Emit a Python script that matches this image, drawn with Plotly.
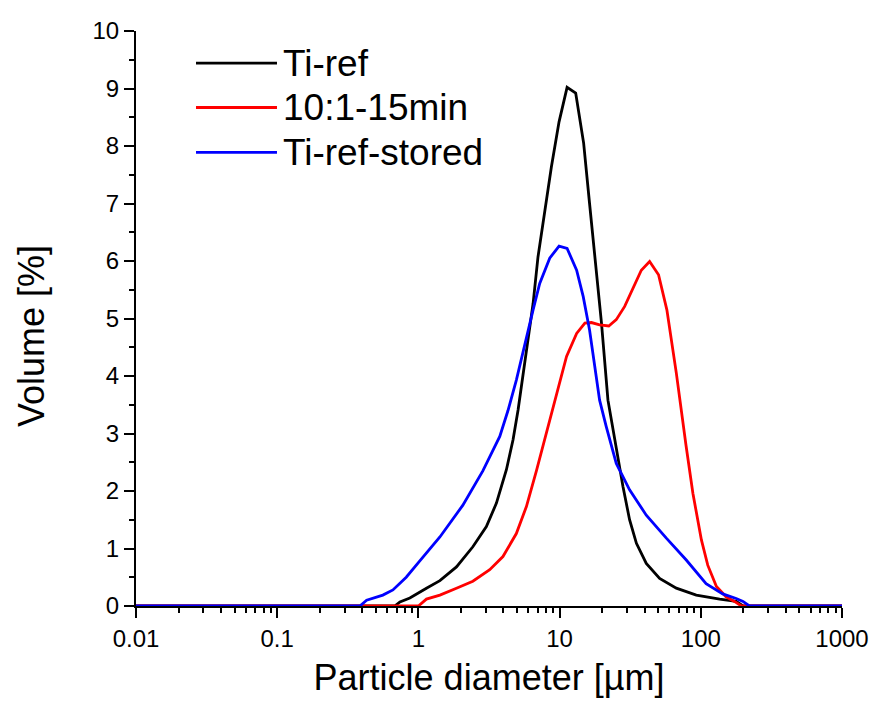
import plotly.graph_objects as go

# ---- data ----
series_names = ["Ti-ref", "10:1-15min", "Ti-ref-stored"]
series_colors = ["#000000", "#FF0000", "#0000FF"]

ti_ref_x = [0.01, 0.68, 0.74, 0.87, 1.14, 1.42, 1.86, 2.43, 3.03, 3.57, 4.20, 4.68,
            5.08, 5.46, 5.82, 6.49, 7.03, 7.85, 8.75, 9.91, 11.3, 13.0, 14.8, 16.3,
            18.0, 19.8, 22.0, 25.2, 28.1, 31.3, 35.0, 41.1, 51.1, 67.1, 92.9, 136,
            178, 199, 1000]
ti_ref_y = [0, 0, 0.07, 0.14, 0.31, 0.44, 0.68, 1.03, 1.38, 1.79, 2.37, 2.89,
            3.41, 3.93, 4.39, 5.26, 6.07, 6.89, 7.64, 8.42, 9.02, 8.92, 8.05, 7.0,
            5.96, 4.92, 3.58, 2.71, 2.08, 1.5, 1.09, 0.74, 0.48, 0.31, 0.19, 0.12,
            0.08, 0, 0]

min15_x = [0.01, 1.0, 1.14, 1.42, 1.86, 2.43, 3.20, 3.97, 4.94, 5.82, 6.85,
           9.23, 11.2, 13.2, 15.1, 16.8, 19.2, 22.3, 25.2, 28.9, 33.1, 37.9, 43.4,
           50.2, 57.5, 67.1, 78.5, 87.9, 101, 112, 129, 151, 173, 194, 1000]
min15_y = [0, 0, 0.12, 0.19, 0.31, 0.43, 0.63, 0.86, 1.26, 1.73, 2.35,
           3.58, 4.34, 4.74, 4.92, 4.93, 4.89, 4.87, 4.98, 5.21, 5.52, 5.84, 5.99,
           5.76, 5.15, 4.05, 2.8, 1.96, 1.15, 0.71, 0.34, 0.16, 0.08, 0, 0]

stored_x = [0.01, 0.385, 0.43, 0.475, 0.56, 0.66, 0.82, 1.02, 1.42, 2.06, 2.86,
            3.77, 4.31, 4.94, 5.82, 6.49, 7.23, 8.51, 9.91, 11.3, 13.2, 14.7, 16.3,
            17.7, 19.2, 21.4, 25.2, 31.3, 41.1, 57.0, 78.9, 109, 143, 178, 199,
            221, 1000]
stored_y = [0, 0, 0.1, 0.13, 0.19, 0.28, 0.5, 0.78, 1.2, 1.75, 2.35,
            2.95, 3.4, 3.93, 4.68, 5.15, 5.61, 6.05, 6.26, 6.22, 5.84, 5.38, 4.8,
            4.22, 3.58, 3.12, 2.48, 2.02, 1.58, 1.18, 0.8, 0.39, 0.21, 0.13, 0.08,
            0, 0]

x_tick_vals = [0.01, 0.1, 1, 10, 100, 1000]
x_tick_text = ["0.01", "0.1", "1", "10", "100", "1000"]
y_tick_vals = [0, 1, 2, 3, 4, 5, 6, 7, 8, 9, 10]
x_title = "Particle diameter [µm]"
y_title = "Volume [%]"

FONT = "Liberation Sans, Arial, sans-serif"
LW = 2.8

fig = go.Figure()
for xs, ys, name, col in [(ti_ref_x, ti_ref_y, series_names[0], series_colors[0]),
                          (min15_x, min15_y, series_names[1], series_colors[1]),
                          (stored_x, stored_y, series_names[2], series_colors[2])]:
    fig.add_trace(go.Scatter(x=xs, y=ys, mode="lines", name=name,
                             line=dict(color=col, width=LW), showlegend=False))

# manual legend (long line samples like the reference)
leg_y = [0.944, 0.867, 0.789]
for name, col, ly in zip(series_names, series_colors, leg_y):
    fig.add_shape(type="line", xref="paper", yref="paper",
                  x0=0.085, x1=0.1997, y0=ly, y1=ly,
                  line=dict(color=col, width=LW))
    fig.add_annotation(xref="paper", yref="paper", x=0.205, y=ly,
                       xanchor="left", yanchor="middle", text=name,
                       showarrow=False, font=dict(family=FONT, size=37, color="black"))

# y axis title placed like the reference (slightly below the axis centre)
fig.add_annotation(xref="paper", yref="paper", x=-0.147, y=0.47,
                   xanchor="center", yanchor="middle", text=y_title, textangle=-90,
                   showarrow=False, font=dict(family=FONT, size=36, color="black"))

fig.update_layout(
    width=875, height=708,
    margin=dict(l=136, r=33, t=31, b=102, autoexpand=False),
    paper_bgcolor="white", plot_bgcolor="white",
    font=dict(family=FONT, color="black"),
    showlegend=False,
)
fig.update_xaxes(
    type="log", range=[-2, 3],
    tickmode="array", tickvals=x_tick_vals, ticktext=x_tick_text,
    ticks="outside", ticklen=10, tickwidth=2, tickcolor="black",
    minor=dict(ticks="outside", ticklen=5, tickwidth=1.5, tickcolor="black", dtick="D1", showgrid=False),
    showline=True, linecolor="black", linewidth=2, mirror=False,
    showgrid=False, zeroline=False, layer="below traces",
    tickfont=dict(family=FONT, size=24, color="black"),
    title=dict(text=x_title, font=dict(family=FONT, size=36, color="black"), standoff=14),
)
fig.update_yaxes(
    range=[0, 10], tickmode="array", tickvals=y_tick_vals,
    ticks="outside", ticklen=10, tickwidth=2, tickcolor="black",
    minor=dict(ticks="outside", ticklen=5, tickwidth=1.5, tickcolor="black", dtick=0.5, showgrid=False),
    showline=True, linecolor="black", linewidth=2, mirror=False,
    showgrid=False, zeroline=False, layer="below traces",
    tickfont=dict(family=FONT, size=24, color="black"),
)

fig.write_html("out.html")
